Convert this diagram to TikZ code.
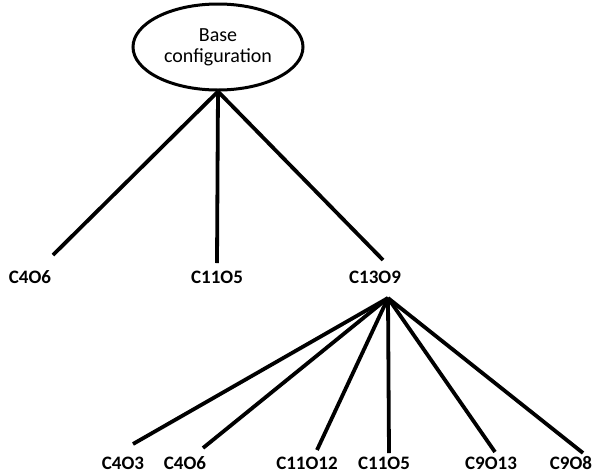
\documentclass[tikz,border=0pt]{standalone}
\usepackage{fontspec}
\setmainfont{Carlito}
\usetikzlibrary{shapes.geometric}
\tikzset{%
	root/.style   = {draw, ellipse, line width=3pt, minimum width=170pt, minimum height=86pt, inner sep=0pt, align=center, font=\fontsize{20}{21}\selectfont},
	leaf/.style   = {anchor=base, inner sep=0pt, font=\fontsize{19}{22}\selectfont\bfseries},
	branch/.style = {line width=3.8pt},
}
\begin{document}
\begin{tikzpicture}[x=1pt,y=-1pt]
		\useasboundingbox (0,0) rectangle (597,475);
		\node[root] (base) at (218,47) {Base\\configuration};
		
		\node[leaf] (c4o6) at (30,283) {C4O6};
		\node[leaf] (c11o5) at (217,283) {C11O5};
		\node[leaf] (c13o9) at (375,283) {C13O9};
		\coordinate (c4o6top) at (53,255);
		\coordinate (c11o5top) at (217,263);
		\coordinate (c13o9top) at (383,260);
		\draw[branch] (base.south) -- (c4o6top);
		\draw[branch] (base.south) -- (c11o5top);
		\draw[branch] (base.south) -- (c13o9top);
		
		\node[leaf] (d4o3) at (123,469) {C4O3};
		\node[leaf] (d4o6) at (185,469) {C4O6};
		\node[leaf] (d11o12) at (307,469) {C11O12};
		\node[leaf] (d11o5) at (384,469) {C11O5};
		\node[leaf] (d9o13) at (491,469) {C9O13};
		\node[leaf] (d9o8) at (571,469) {C9O8};
		\coordinate (fork) at (388,298);
		\coordinate (d4o3top) at (133,444);
		\coordinate (d4o6top) at (203,448);
		\coordinate (d11o12top) at (317,450);
		\coordinate (d11o5top) at (389,453);
		\coordinate (d9o13top) at (495,452);
		\coordinate (d9o8top) at (583,453);
		\draw[branch] (fork) -- (d4o3top);
		\draw[branch] (fork) -- (d4o6top);
		\draw[branch] (fork) -- (d11o12top);
		\draw[branch] (fork) -- (d11o5top);
		\draw[branch] (fork) -- (d9o13top);
		\draw[branch] (fork) -- (d9o8top);
		\end{tikzpicture}
\end{document}
